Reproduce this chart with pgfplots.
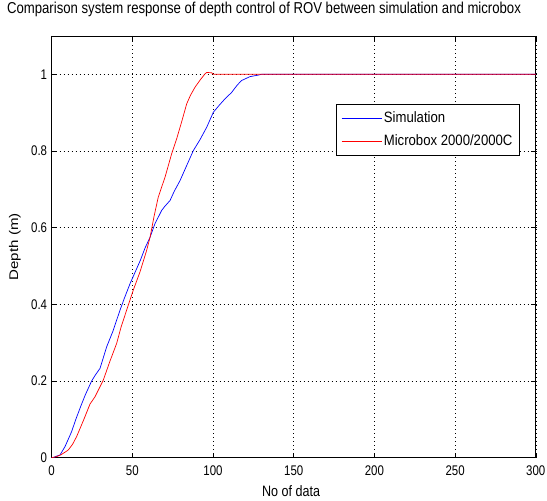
\documentclass[border=0pt]{standalone}
\usepackage{fontspec}
\setmainfont{Liberation Sans}
\usepackage{pgfplots}
\pgfplotsset{compat=1.18}

\begin{document}
\begin{tikzpicture}
\useasboundingbox (-51.6bp,-43.3bp) rectangle (495.4bp,457.7bp);
\begin{axis}[
	at={(0,0)}, anchor=south west,
	scale only axis,
	width=484.2bp, height=421.7bp,
	xmin=0, xmax=300,
	ymin=0, ymax=1.1,
	xtick={0,50,...,300},
	ytick={0,0.2,0.4,0.6,0.8,1},
	grid=major,
	grid style={black, line width=0.5bp, dash pattern=on 0.8bp off 3.2bp},
	axis line style={black, line width=0.9bp},
	tick align=inside,
	major tick length=5bp,
	tick style={black, line width=0.6bp},
	/pgf/number format/assume math mode=true,
	ticklabel style={font=\fontsize{11.5}{13}\selectfont, yscale=1.22},
	xticklabel style={yshift=-3bp},
	yticklabel style={xshift=-1bp},
	title={Comparison system response of depth control of ROV between simulation and microbox},
	title style={at={(axis description cs:0.4387,1.05)}, anchor=center,
		font=\fontsize{13.2}{15}\selectfont, yscale=1.2},
	xlabel={No of data},
	ylabel={Depth (m)},
	every axis x label/.style={at={(axis description cs:0.4945,-0.079)}, anchor=center,
		font=\fontsize{12.6}{15}\selectfont, yscale=1.2},
	every axis y label/.style={at={(axis description cs:-0.0756,0.5)}, rotate=90, anchor=center,
		font=\fontsize{12.6}{15}\selectfont, xscale=1.2},
	legend cell align=left,
	legend image code/.code={\draw[#1] (0bp,0bp) -- (40bp,0bp);},
	legend style={at={(axis description cs:0.967,0.838)}, anchor=north east,
		draw=black, line width=0.6bp, fill=white,
		font=\fontsize{13.2}{15}\selectfont,
		inner xsep=5bp, inner ysep=5bp, row sep=6bp,
		nodes={inner sep=2bp, yscale=1.14}},
	]
	\addplot [no marks, color=blue, line width=0.7bp] coordinates {
	(0,0) (1,0) (3,0.004) (5.2,0.007) (8.3,0.029) (10,0.045) (12.4,0.068)
	(15,0.1) (18.6,0.14) (21,0.165) (24.8,0.2) (27,0.215) (30,0.233)
	(34.1,0.289) (38,0.33) (42.4,0.385) (45,0.415) (48.6,0.454) (52.7,0.493)
	(55,0.515) (57.9,0.547) (61,0.575) (64,0.61) (68.2,0.645) (70,0.655)
	(73.4,0.671) (76,0.695) (79.6,0.723) (84,0.765) (87.8,0.801) (92,0.83)
	(96.1,0.862) (100.2,0.901) (104,0.92) (107.4,0.936) (111.6,0.953)
	(115,0.972) (117.8,0.984) (122.9,0.994) (128.1,0.998) (130,1) (300,1)
	};
	\addlegendentry{Simulation}
	\addplot [no marks, color=red, line width=0.7bp] coordinates {
	(0,0) (3.2,0.003) (6,0.008) (10.3,0.02) (13,0.035) (15.5,0.055) (20,0.1)
	(23.8,0.14) (26.9,0.159) (32,0.202) (36,0.25) (40.3,0.298) (43,0.34)
	(46.5,0.385) (50.6,0.437) (54.8,0.485) (58.9,0.541) (61,0.575)
	(63.5,0.63) (66.1,0.68) (70.3,0.732) (74.4,0.793) (77.5,0.832)
	(80.5,0.875) (83.7,0.923) (86,0.945) (88.8,0.966) (92,0.985) (95,1.001)
	(96.1,1.005) (99.2,1.004) (100.2,1.0) (300,1)
	};
	\addlegendentry{Microbox 2000/2000C}
\end{axis}
\end{tikzpicture}
\end{document}
